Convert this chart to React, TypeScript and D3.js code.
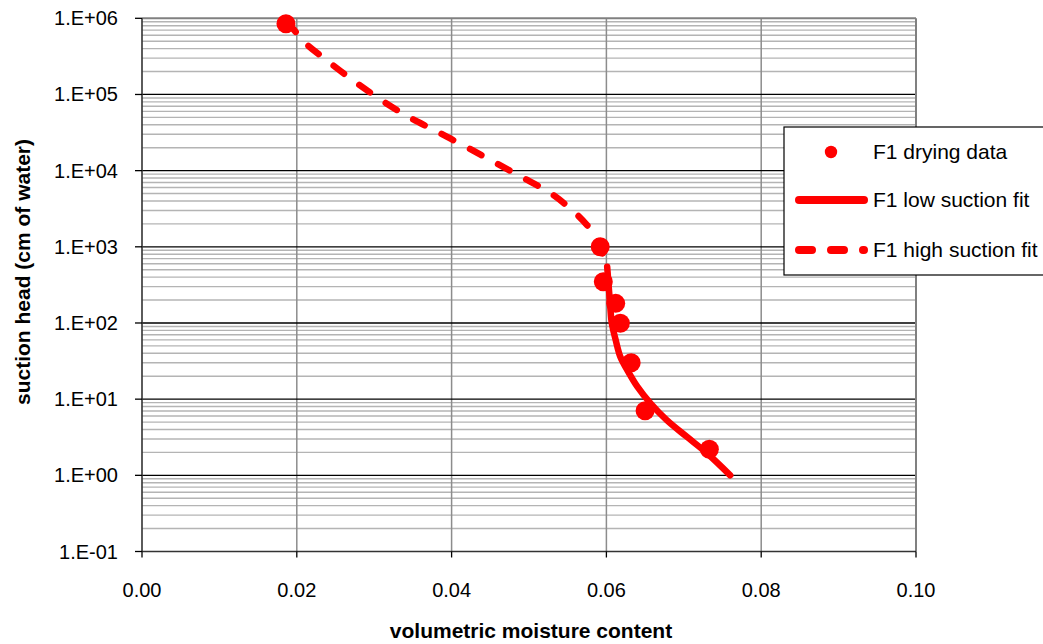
import React from "react";
import * as d3 from "d3";

const dryingTheta = [0.0186, 0.0592, 0.0596, 0.0612, 0.0618, 0.0632, 0.0650, 0.0733];
const dryingHead = [850000, 1000, 348, 181, 99, 30, 7.05, 2.2];

const lowFitTheta = [0.0601, 0.0603, 0.0605, 0.0607, 0.0612, 0.0618, 0.0627, 0.064, 0.0657, 0.0678, 0.0704, 0.073, 0.076];
const lowFitHead = [548, 299, 164, 99, 59.8, 36, 24.1, 14.6, 8.8, 5.3, 3.2, 1.95, 1.0];

const highFitTheta = [0.0186, 0.0193, 0.0209, 0.0241, 0.0275, 0.0308, 0.0344, 0.0379, 0.0418, 0.0454, 0.0491, 0.0528, 0.0558, 0.0575, 0.0586, 0.0592, 0.0597, 0.0601];
const highFitHead = [850000, 769000, 493000, 269000, 147000, 86000, 51000, 33400, 20700, 13100, 8200, 5050, 2890, 1930, 1360, 1000, 713, 548];

const xTicks = [0, 0.02, 0.04, 0.06, 0.08, 0.1];
const yTicks = [0.1, 1, 10, 100, 1000, 10000, 100000, 1000000];
const yTickLabels = ["1.E-01", "1.E+00", "1.E+01", "1.E+02", "1.E+03", "1.E+04", "1.E+05", "1.E+06"];
const legendLabels = ["F1 drying data", "F1 low suction fit", "F1 high suction fit"];

const W = 1043, H = 644;
const L = 142, R = 916, T = 18.3, B = 551.5;
const RED = "#ff0000";
const FONT = "'Liberation Sans', Arial, sans-serif";

export default function App() {
  const x = d3.scaleLinear().domain([0, 0.1]).range([L, R]);
  const y = d3.scaleLog().domain([0.1, 1000000]).range([B, T]);

  const minor: number[] = [];
  for (let e = -1; e < 6; e++) {
    for (let m = 2; m <= 9; m++) minor.push(m * Math.pow(10, e));
  }

  const line = d3
    .line<[number, number]>()
    .x((d) => x(d[0]))
    .y((d) => y(d[1]))
    .curve(d3.curveCatmullRom.alpha(0.5));

  const lowPts: [number, number][] = lowFitTheta.map((t, i) => [t, lowFitHead[i]]);
  const highPts: [number, number][] = highFitTheta.map((t, i) => [t, highFitHead[i]]);

  const legY = [152, 200, 250];

  return (
    <svg width={W} height={H} style={{ position: "absolute", left: 0, top: 0, background: "#fff" }} fontFamily={FONT}>
      <rect x={0} y={0} width={W} height={H} fill="#fff" />
      {minor.map((v, i) => (
        <line key={"mn" + i} x1={L} x2={R} y1={y(v)} y2={y(v)} stroke="#b4b4b4" strokeWidth={1.4} />
      ))}
      {xTicks.slice(1, -1).map((v, i) => (
        <line key={"vg" + i} x1={x(v)} x2={x(v)} y1={T} y2={B} stroke="#8c8c8c" strokeWidth={1.5} />
      ))}
      {yTicks.slice(1, -1).map((v, i) => (
        <line key={"mj" + i} x1={L} x2={R} y1={y(v)} y2={y(v)} stroke="#000" strokeWidth={1.3} />
      ))}
      <line x1={L} x2={R} y1={T} y2={T} stroke="#808080" strokeWidth={2} />
      <line x1={R} x2={R} y1={T} y2={B} stroke="#808080" strokeWidth={2} />
      <line x1={L} x2={L} y1={T} y2={B} stroke="#333" strokeWidth={1.6} />
      <line x1={L} x2={R} y1={B} y2={B} stroke="#333" strokeWidth={1.6} />
      {yTicks.map((v, i) => (
        <g key={"yt" + i}>
          <line x1={L - 7} x2={L} y1={y(v)} y2={y(v)} stroke="#000" strokeWidth={1.3} />
          <text x={118} y={y(v)} dy="0.35em" textAnchor="end" fontSize={20} fill="#000">
            {yTickLabels[i]}
          </text>
        </g>
      ))}
      {xTicks.map((v, i) => (
        <g key={"xt" + i}>
          <line x1={x(v)} x2={x(v)} y1={B} y2={B + 6} stroke="#000" strokeWidth={1.3} />
          <text x={x(v)} y={597} textAnchor="middle" fontSize={20} fill="#000">
            {v.toFixed(2)}
          </text>
        </g>
      ))}
      <text x={531} y={638} textAnchor="middle" fontSize={21} fontWeight="bold" fill="#000">
        volumetric moisture content
      </text>
      <text
        transform={`translate(30, 272) rotate(-90)`}
        textAnchor="middle"
        fontSize={21}
        fontWeight="bold"
        fill="#000"
      >
        suction head (cm of water)
      </text>
      <path d={line(highPts) || ""} fill="none" stroke={RED} strokeWidth={6.5} strokeLinecap="round" strokeDasharray="13 19" />
      <path d={line(lowPts) || ""} fill="none" stroke={RED} strokeWidth={6.5} strokeLinecap="round" />
      {dryingTheta.map((t, i) => (
        <circle key={"pt" + i} cx={x(t)} cy={y(dryingHead[i])} r={9.5} fill={RED} />
      ))}
      <rect x={784} y={127} width={280} height={148} fill="#fff" stroke="#000" strokeWidth={1.2} />
      <circle cx={831} cy={legY[0]} r={6.2} fill={RED} />
      <line x1={799} x2={864} y1={legY[1]} y2={legY[1]} stroke={RED} strokeWidth={8} strokeLinecap="round" />
      <line x1={799} x2={864} y1={legY[2]} y2={legY[2]} stroke={RED} strokeWidth={8} strokeLinecap="round" strokeDasharray="13 19" />
      {legendLabels.map((s, i) => (
        <text key={"lg" + i} x={873} y={legY[i]} dy="0.35em" fontSize={21} fill="#000">
          {s}
        </text>
      ))}
    </svg>
  );
}
